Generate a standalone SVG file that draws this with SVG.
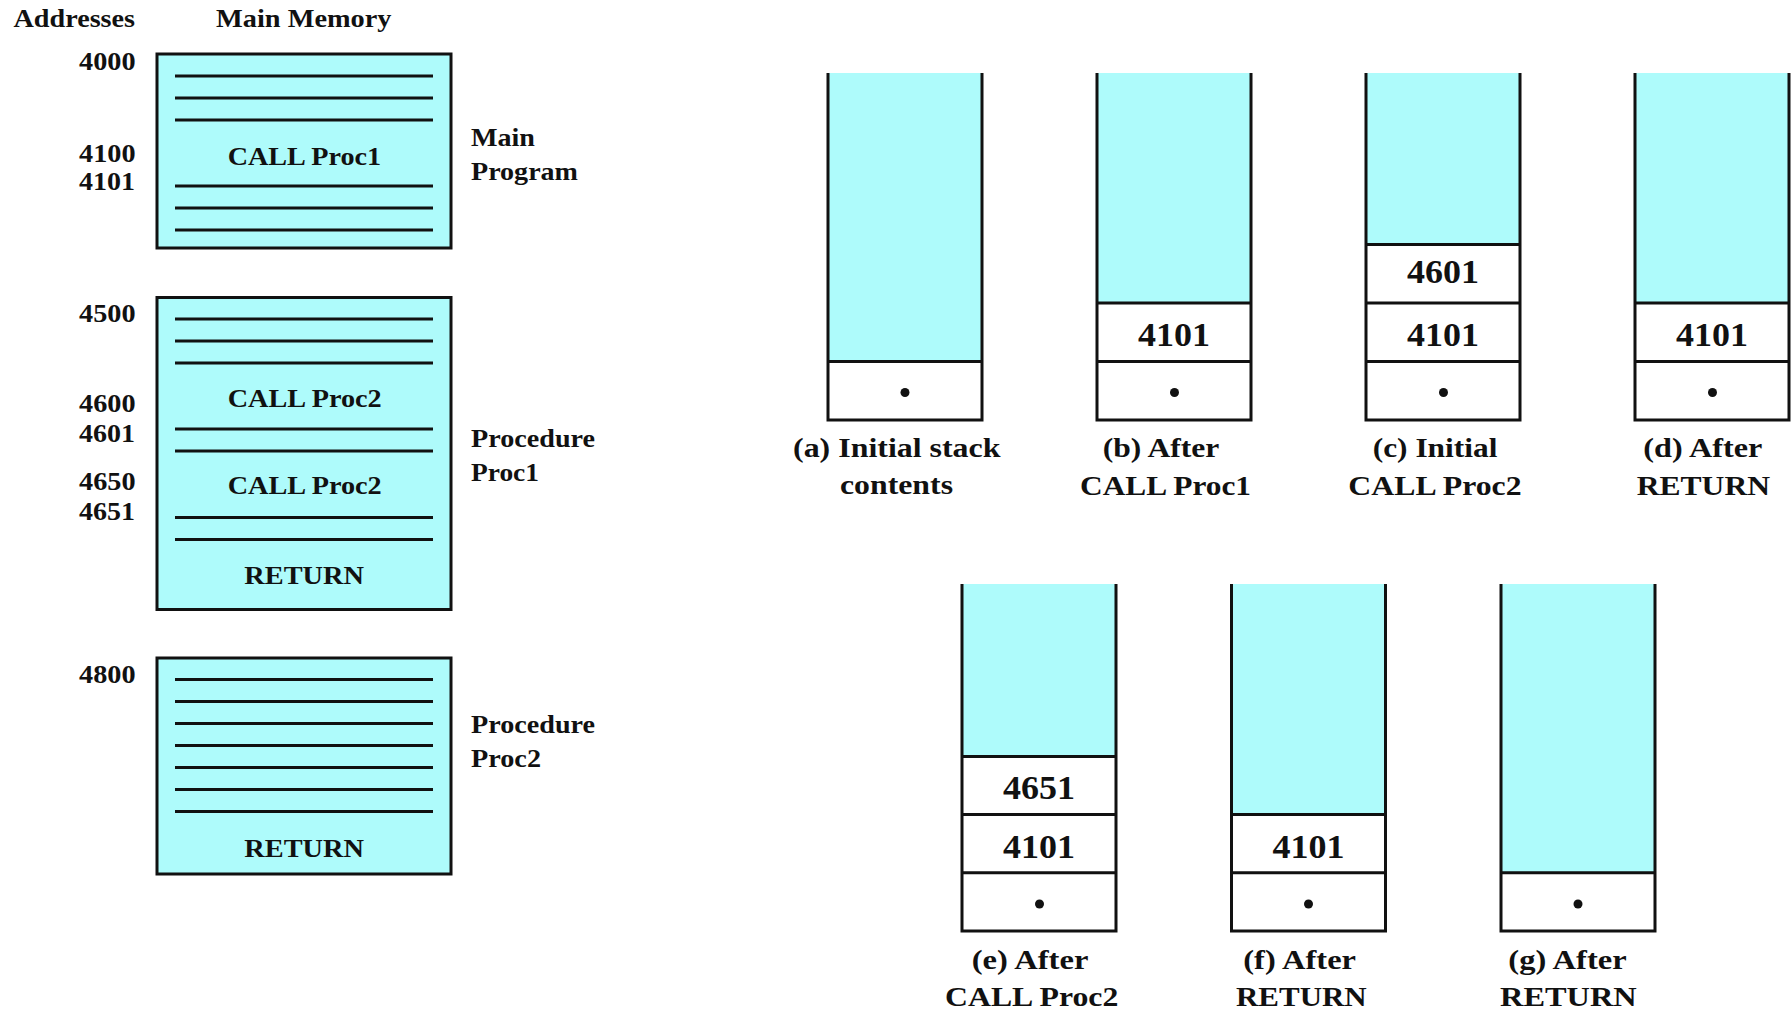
<svg xmlns="http://www.w3.org/2000/svg" width="1792" height="1013" viewBox="0 0 1792 1013">
<style>
text{font-family:"Liberation Serif","Times New Roman",serif;font-weight:bold;fill:#111}
.hd{font-size:26px}
.ad{font-size:25px}
.bx{font-size:26px}
.lb{font-size:26px}
.val{font-size:33px}
.cap{font-size:28px}
.mem{fill:#aefbfb;stroke:#111;stroke-width:3}
.ln{stroke:#111;stroke-width:3;fill:none}
.cy{fill:#aefbfb}
.wh{fill:#ffffff}
.dot{fill:#111}
</style>
<rect width="1792" height="1013" fill="#ffffff"/>
<g id="headers">
<text class="hd" x="13.5" y="27" textLength="121.5" lengthAdjust="spacingAndGlyphs">Addresses</text>
<text class="hd" x="216" y="27" textLength="175.5" lengthAdjust="spacingAndGlyphs">Main Memory</text>
</g>
<g id="main-program">
<rect class="mem" x="157" y="54" width="294" height="194"/>
<path class="ln" d="M175 76H433M175 98H433M175 120H433M175 186H433M175 208H433M175 230H433"/>
<text class="bx" x="227.7" y="165" textLength="153.5" lengthAdjust="spacingAndGlyphs">CALL Proc1</text>
<text class="ad" x="79" y="69.5" textLength="56.5" lengthAdjust="spacingAndGlyphs">4000</text>
<text class="ad" x="79" y="162" textLength="56.5" lengthAdjust="spacingAndGlyphs">4100</text>
<text class="ad" x="79" y="190" textLength="56" lengthAdjust="spacingAndGlyphs">4101</text>
<text class="lb" x="471" y="145.5" textLength="64" lengthAdjust="spacingAndGlyphs">Main</text>
<text class="lb" x="471" y="180" textLength="107" lengthAdjust="spacingAndGlyphs">Program</text>
</g>
<g id="procedure-proc1">
<rect class="mem" x="157" y="297.5" width="294" height="312"/>
<path class="ln" d="M175 319H433M175 341H433M175 363H433M175 429H433M175 451H433M175 517.5H433M175 539.5H433"/>
<text class="bx" x="227.7" y="406.5" textLength="154" lengthAdjust="spacingAndGlyphs">CALL Proc2</text>
<text class="bx" x="227.7" y="493.5" textLength="154" lengthAdjust="spacingAndGlyphs">CALL Proc2</text>
<text class="bx" x="244.3" y="583.5" textLength="119.7" lengthAdjust="spacingAndGlyphs">RETURN</text>
<text class="ad" x="79" y="321.5" textLength="56.5" lengthAdjust="spacingAndGlyphs">4500</text>
<text class="ad" x="79" y="412" textLength="56.5" lengthAdjust="spacingAndGlyphs">4600</text>
<text class="ad" x="79" y="441.5" textLength="56" lengthAdjust="spacingAndGlyphs">4601</text>
<text class="ad" x="79" y="490" textLength="56.5" lengthAdjust="spacingAndGlyphs">4650</text>
<text class="ad" x="79" y="519.5" textLength="56" lengthAdjust="spacingAndGlyphs">4651</text>
<text class="lb" x="471" y="447" textLength="124" lengthAdjust="spacingAndGlyphs">Procedure</text>
<text class="lb" x="471" y="481" textLength="68" lengthAdjust="spacingAndGlyphs">Proc1</text>
</g>
<g id="procedure-proc2">
<rect class="mem" x="157" y="658" width="294" height="216"/>
<path class="ln" d="M175 679.5H433M175 701.5H433M175 723.5H433M175 745.5H433M175 767.5H433M175 789.5H433M175 811.5H433"/>
<text class="bx" x="244.3" y="857.3" textLength="119.7" lengthAdjust="spacingAndGlyphs">RETURN</text>
<text class="ad" x="79" y="683" textLength="56.5" lengthAdjust="spacingAndGlyphs">4800</text>
<text class="lb" x="471" y="732.5" textLength="124" lengthAdjust="spacingAndGlyphs">Procedure</text>
<text class="lb" x="471" y="767" textLength="70" lengthAdjust="spacingAndGlyphs">Proc2</text>
</g>
<g id="stack-a">
<rect class="cy" x="828" y="73" width="154" height="288.5"/>
<rect class="wh" x="828" y="361.5" width="154" height="58.5"/>
<path class="ln" d="M828 73V420H982V73M828 361.5H982"/>
<circle class="dot" cx="905" cy="392.5" r="4.5"/>
<text class="cap" x="793" y="457" textLength="207.5" lengthAdjust="spacingAndGlyphs">(a) Initial stack</text>
<text class="cap" x="840" y="494" textLength="113" lengthAdjust="spacingAndGlyphs">contents</text>
</g>
<g id="stack-b">
<rect class="cy" x="1097" y="73" width="154" height="230"/>
<rect class="wh" x="1097" y="303" width="154" height="117"/>
<path class="ln" d="M1097 73V420H1251V73M1097 361.5H1251M1097 303H1251"/>
<text class="val" x="1138" y="346" textLength="72" lengthAdjust="spacingAndGlyphs">4101</text>
<circle class="dot" cx="1174.5" cy="392.5" r="4.5"/>
<text class="cap" x="1102.7" y="457" textLength="116.7" lengthAdjust="spacingAndGlyphs">(b) After</text>
<text class="cap" x="1080" y="494.5" textLength="171" lengthAdjust="spacingAndGlyphs">CALL Proc1</text>
</g>
<g id="stack-c">
<rect class="cy" x="1366" y="73" width="154" height="171.5"/>
<rect class="wh" x="1366" y="244.5" width="154" height="175.5"/>
<path class="ln" d="M1366 73V420H1520V73M1366 361.5H1520M1366 303H1520M1366 244.5H1520"/>
<text class="val" x="1407" y="283" textLength="72" lengthAdjust="spacingAndGlyphs">4601</text>
<text class="val" x="1407" y="346" textLength="72" lengthAdjust="spacingAndGlyphs">4101</text>
<circle class="dot" cx="1443.5" cy="392.5" r="4.5"/>
<text class="cap" x="1372.7" y="457" textLength="124.7" lengthAdjust="spacingAndGlyphs">(c) Initial</text>
<text class="cap" x="1348.3" y="494.5" textLength="173.3" lengthAdjust="spacingAndGlyphs">CALL Proc2</text>
</g>
<g id="stack-d">
<rect class="cy" x="1635" y="73" width="154" height="230"/>
<rect class="wh" x="1635" y="303" width="154" height="117"/>
<path class="ln" d="M1635 73V420H1789V73M1635 361.5H1789M1635 303H1789"/>
<text class="val" x="1676" y="346" textLength="72" lengthAdjust="spacingAndGlyphs">4101</text>
<circle class="dot" cx="1712.5" cy="392.5" r="4.5"/>
<text class="cap" x="1643.3" y="457" textLength="119" lengthAdjust="spacingAndGlyphs">(d) After</text>
<text class="cap" x="1636.7" y="494.5" textLength="133.3" lengthAdjust="spacingAndGlyphs">RETURN</text>
</g>
<g id="stack-e">
<rect class="cy" x="962" y="584" width="154" height="172.4"/>
<rect class="wh" x="962" y="756.4" width="154" height="174.6"/>
<path class="ln" d="M962 584V931H1116V584M962 872.8H1116M962 814.6H1116M962 756.4H1116"/>
<text class="val" x="1003" y="799" textLength="72" lengthAdjust="spacingAndGlyphs">4651</text>
<text class="val" x="1003" y="858" textLength="72" lengthAdjust="spacingAndGlyphs">4101</text>
<circle class="dot" cx="1039.5" cy="904" r="4.5"/>
<text class="cap" x="971.7" y="968.5" textLength="116.7" lengthAdjust="spacingAndGlyphs">(e) After</text>
<text class="cap" x="945" y="1006" textLength="173.3" lengthAdjust="spacingAndGlyphs">CALL Proc2</text>
</g>
<g id="stack-f">
<rect class="cy" x="1231.5" y="584" width="154" height="230.6"/>
<rect class="wh" x="1231.5" y="814.6" width="154" height="116.4"/>
<path class="ln" d="M1231.5 584V931H1385.5V584M1231.5 872.8H1385.5M1231.5 814.6H1385.5"/>
<text class="val" x="1272.5" y="858" textLength="72" lengthAdjust="spacingAndGlyphs">4101</text>
<circle class="dot" cx="1308.5" cy="904" r="4.5"/>
<text class="cap" x="1243.3" y="968.5" textLength="112.7" lengthAdjust="spacingAndGlyphs">(f) After</text>
<text class="cap" x="1236" y="1006" textLength="130.7" lengthAdjust="spacingAndGlyphs">RETURN</text>
</g>
<g id="stack-g">
<rect class="cy" x="1501" y="584" width="154" height="288.8"/>
<rect class="wh" x="1501" y="872.8" width="154" height="58.2"/>
<path class="ln" d="M1501 584V931H1655V584M1501 872.8H1655"/>
<circle class="dot" cx="1578" cy="904" r="4.5"/>
<text class="cap" x="1508.3" y="968.5" textLength="118.3" lengthAdjust="spacingAndGlyphs">(g) After</text>
<text class="cap" x="1500" y="1006" textLength="136.7" lengthAdjust="spacingAndGlyphs">RETURN</text>
</g>
</svg>
